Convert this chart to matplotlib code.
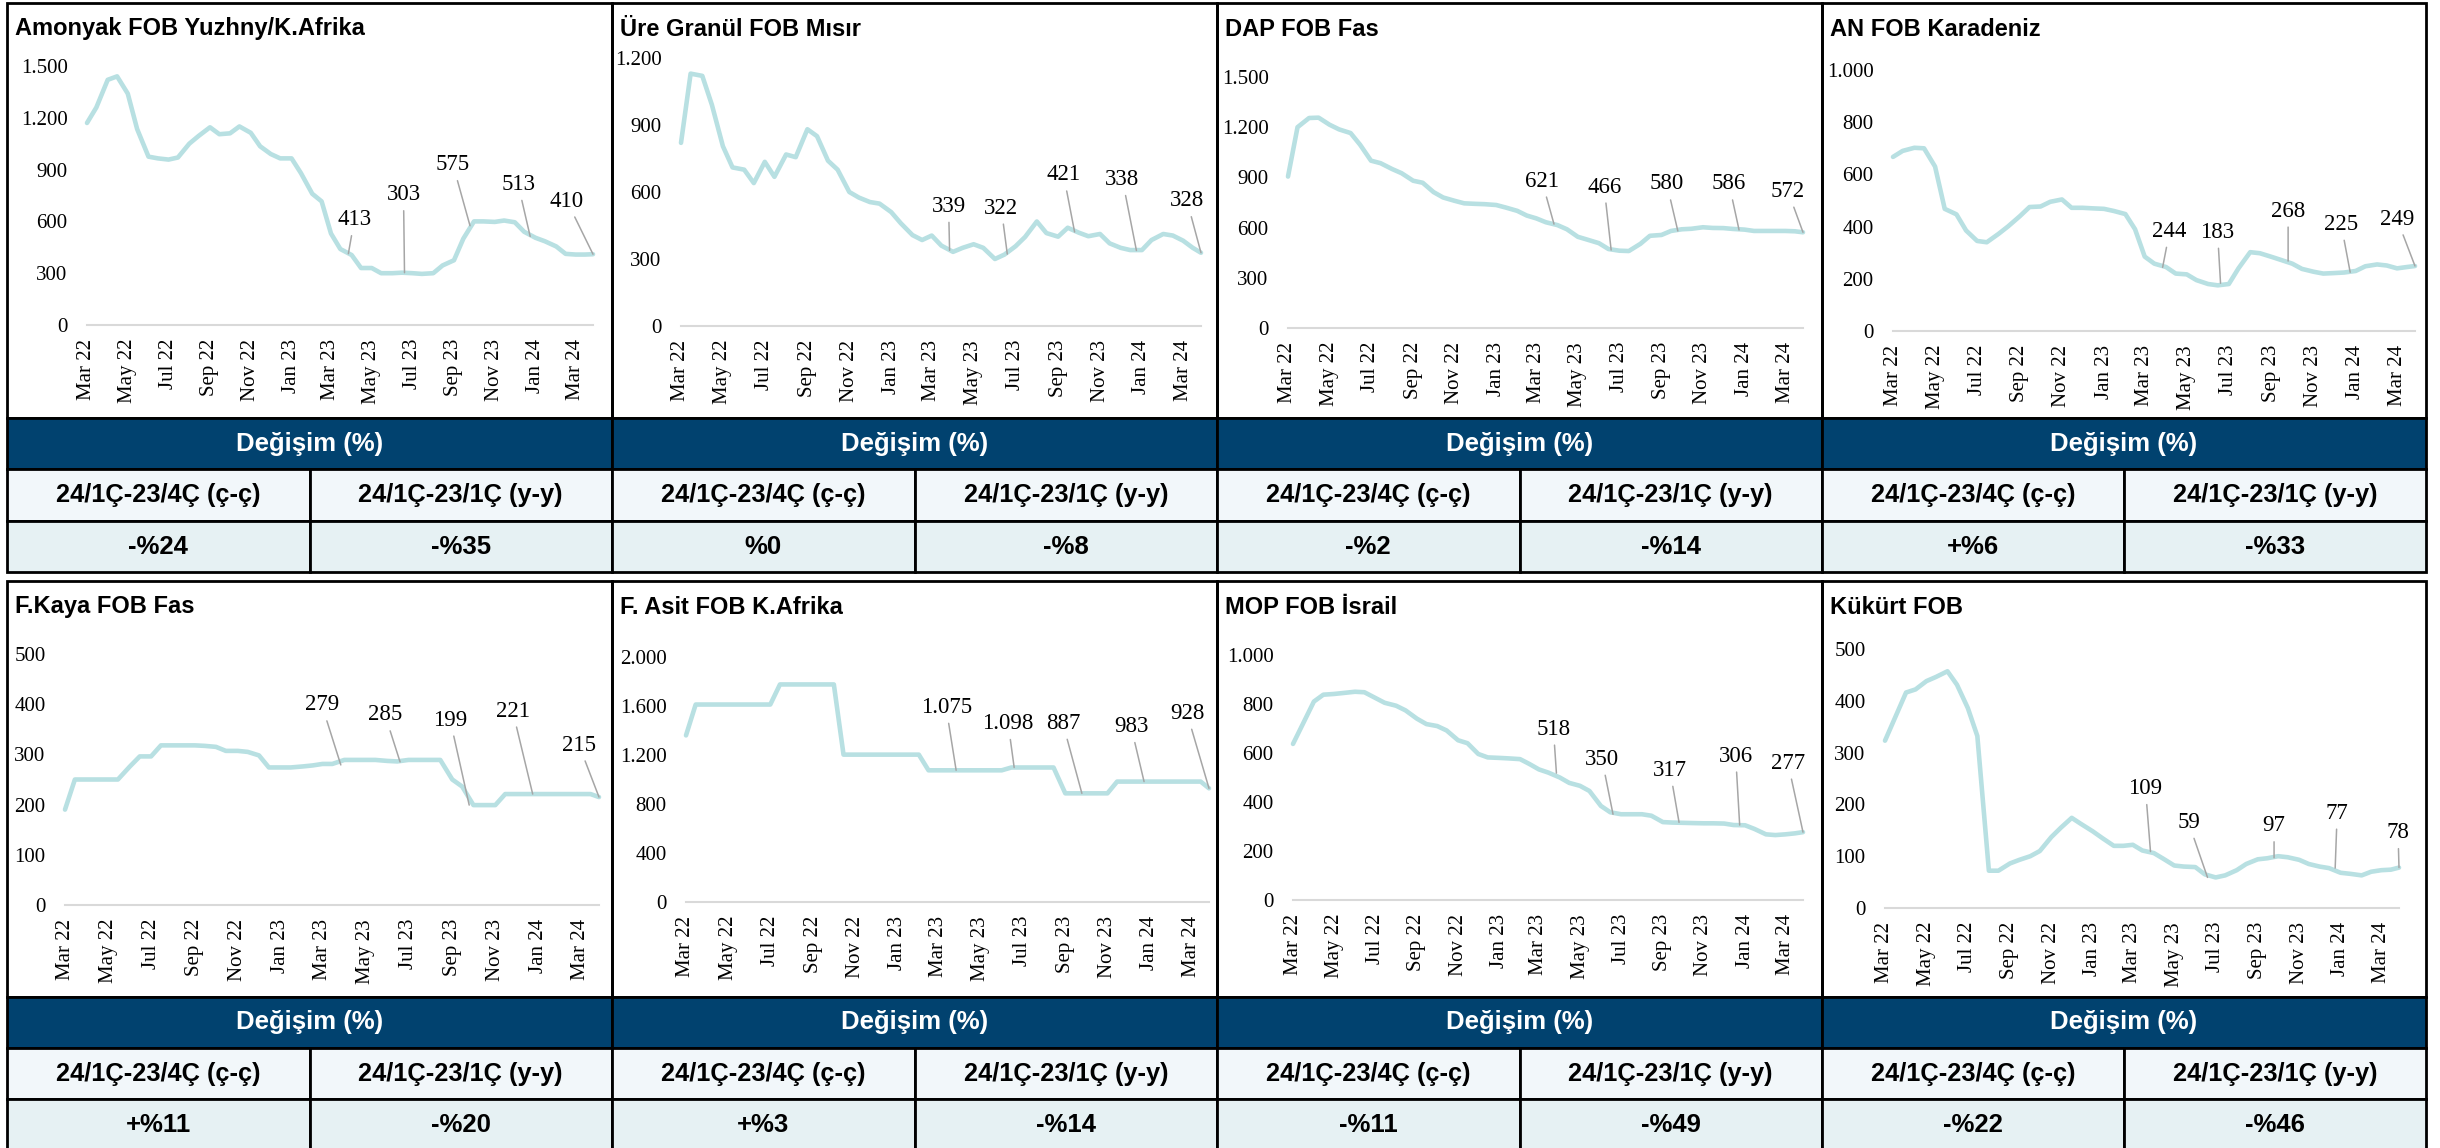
import matplotlib
matplotlib.use("Agg")
import matplotlib.pyplot as plt
import matplotlib.dates as mdates
from matplotlib.patches import Rectangle
from matplotlib.ticker import FuncFormatter, MultipleLocator
import pandas as pd

W, H = 2440, 1148

# yarım aylık tarihler (Mar 22 - Mar 24)
dates = [d.to_pydatetime() for d in pd.date_range("2022-03-01", "2024-03-15", freq="SMS")]
dates.append(pd.Timestamp("2024-03-27").to_pydatetime())
ann_dates = [d.to_pydatetime() for d in pd.to_datetime(
    ["2023-03-27", "2023-06-19", "2023-09-25", "2023-12-24", "2024-03-27"])]

titles = ["Amonyak FOB Yuzhny/K.Afrika", "Üre Granül FOB Mısır", "DAP FOB Fas", "AN FOB Karadeniz",
          "F.Kaya FOB Fas", "F. Asit FOB K.Afrika", "MOP FOB İsrail", "Kükürt FOB"]

amonyak = [1170, 1260, 1420, 1440, 1340, 1135, 975, 965, 958, 970,
           1050, 1095, 1145, 1105, 1110, 1150, 1113, 1035, 990, 965,
           965, 880, 760, 716, 530, 440, 405, 330, 330, 300,
           300, 303, 300, 296, 300, 345, 375, 500, 600, 600,
           597, 605, 595, 540, 505, 485, 455, 412, 408, 408,
           410]
ure = [820, 1130, 1120, 990, 805, 710, 700, 640, 735, 668,
       768, 756, 881, 850, 740, 700, 600, 575, 555, 548,
       510, 460, 407, 385, 405, 360, 332, 350, 366, 350,
       300, 320, 357, 399, 468, 416, 400, 440, 418, 402,
       412, 370, 350, 340, 340, 385, 412, 405, 382, 350,
       328]
dap = [905, 1200, 1255, 1257, 1215, 1187, 1165, 1095, 1000, 985,
       950, 925, 880, 868, 812, 780, 760, 745, 742, 740,
       735, 720, 700, 672, 655, 632, 615, 590, 545, 528,
       507, 472, 462, 460, 503, 551, 556, 580, 590, 593,
       602, 598, 597, 592, 588, 580, 580, 580, 580, 578,
       572]
an = [667, 690, 702, 700, 630, 468, 447, 385, 345, 340,
      372, 401, 440, 475, 477, 495, 504, 472, 472, 470,
      468, 460, 448, 390, 285, 258, 245, 220, 217, 195,
      180, 175, 180, 240, 302, 298, 284, 272, 258, 238,
      227, 220, 222, 224, 230, 248, 255, 251, 240, 245,
      249]
fkaya = [190, 250, 250, 250, 250, 250, 276, 296, 296, 318,
         318, 318, 318, 317, 315, 307, 307, 305, 298, 274,
         274, 274, 276, 278, 281, 281, 289, 289, 289, 289,
         287, 286, 289, 289, 289, 289, 250, 236, 199, 199,
         199, 221, 221, 221, 221, 221, 221, 221, 221, 221,
         215]
fasit = [1360, 1612, 1612, 1612, 1612, 1612, 1612, 1612, 1612, 1776,
         1776, 1776, 1776, 1776, 1776, 1203, 1203, 1203, 1203, 1203,
         1203, 1203, 1203, 1075, 1075, 1075, 1075, 1075, 1075, 1075,
         1075, 1098, 1098, 1098, 1098, 1098, 887, 887, 887, 887,
         887, 983, 983, 983, 983, 983, 983, 983, 983, 983,
         928]
mop = [637, 715, 810, 838, 841, 845, 850, 848, 825, 805,
       793, 774, 740, 718, 710, 692, 652, 640, 596, 582,
       580, 578, 575, 555, 533, 520, 500, 478, 466, 445,
       384, 358, 350, 350, 350, 344, 318, 316, 315, 314,
       313, 313, 312, 306, 305, 290, 268, 265, 268, 272,
       277]
kukurt = [323, 365, 416, 422, 438, 446, 457, 431, 386, 332,
          72, 72, 86, 93, 100, 110, 137, 155, 174, 162,
          148, 135, 120, 120, 122, 111, 106, 95, 82, 80,
          79, 65, 59, 63, 73, 85, 94, 96, 100, 98,
          93, 85, 80, 77, 68, 66, 63, 70, 73, 74,
          78]
series = [amonyak, ure, dap, an, fkaya, fasit, mop, kukurt]

# çeyrek sonu etiketleri
point_labels = [[413, 303, 575, 513, 410], [339, 322, 421, 338, 328], [621, 466, 580, 586, 572],
                [244, 183, 268, 225, 249], [279, 285, 199, 221, 215], [1075, 1098, 887, 983, 928],
                [518, 350, 317, 306, 277], [109, 59, 97, 77, 78]]

qq_change = ["-%24", "%0", "-%2", "+%6", "+%11", "+%3", "-%11", "-%22"]
yy_change = ["-%35", "-%8", "-%14", "-%33", "-%20", "-%14", "-%49", "-%46"]
col_heads = ["24/1Ç-23/4Ç (ç-ç)", "24/1Ç-23/1Ç (y-y)"]

y_max = [1500, 1200, 1500, 1000, 500, 2000, 1000, 500]
y_step = [300, 300, 300, 200, 100, 400, 200, 100]

# yerleşim (piksel)
col_x = [7, 612, 1217, 1822, 2426]
rows = [(3, 418, 469, 521, 572), (581, 997, 1048, 1099, 1152)]
title_y = [29, 607]
ax_box = [(87, 593, 66, 325), (681, 1201, 58, 326), (1288, 1803, 77, 328), (1893, 2415, 70, 331),
          (65, 599, 654, 905), (686, 1209, 657, 902), (1293, 1803, 655, 900), (1885, 2399, 649, 908)]
offsets = [[(6, 34), (-1, 78), (-17, 61), (-12, 52), (-26, 53)],
           [(-1, 44), (-6, 46), (-11, 57), (-14, 71), (-14, 52)],
           [(-12, 43), (-7, 63), (-11, 47), (-10, 46), (-15, 41)],
           [(7, 36), (-3, 51), (0, 50), (-9, 48), (-18, 47)],
           [(-19, 60), (-15, 47), (-19, 85), (-20, 83), (-20, 52)],
           [(-10, 63), (-6, 44), (-19, 70), (-13, 55), (-22, 75)],
           [(-3, 44), (-11, 55), (-9, 52), (-4, 69), (-15, 69)],
           [(-5, 63), (-19, 55), (0, 32), (2, 55), (-1, 35)]]

LINE = "#b8e0e2"
NAVY = "#01426f"
SANS = "Liberation Sans"
SERIF = "Liberation Serif"


def fmt_num(v):
    return f"{int(v):,}".replace(",", ".")


fig = plt.figure(figsize=(W / 100, H / 100), dpi=100)
ov = fig.add_axes([0, 0, 1, 1], zorder=0)
ov.set_xlim(0, W)
ov.set_ylim(H, 0)
ov.axis("off")

for i in range(8):
    r, c = divmod(i, 4)
    x0, x1 = col_x[c], col_x[c + 1]
    xm = (x0 + x1) / 2
    top, hdr, sub, val, bot = rows[r]

    # çerçeve ve tablo
    ov.add_patch(Rectangle((x0, top), x1 - x0, hdr - top, fill=False, ec="black", lw=2))
    ov.add_patch(Rectangle((x0, hdr), x1 - x0, sub - hdr, fc=NAVY, ec="black", lw=2))
    for k, (a, b) in enumerate([(x0, xm), (xm, x1)]):
        ov.add_patch(Rectangle((a, sub), b - a, val - sub, fc="#f2f7fa", ec="black", lw=2))
        ov.add_patch(Rectangle((a, val), b - a, bot - val, fc="#e6f1f3", ec="black", lw=2))
        ov.text((a + b) / 2, (sub + val) / 2, col_heads[k], ha="center", va="center",
                fontsize=18.3, fontweight="bold", family=SANS)
        ov.text((a + b) / 2, (val + min(bot, H)) / 2 + 1, [qq_change, yy_change][k][i],
                ha="center", va="center", fontsize=18.5, fontweight="bold", family=SANS)
    ov.text(xm, (hdr + sub) / 2, "Değişim (%)", ha="center", va="center", color="white",
            fontsize=18.5, fontweight="bold", family=SANS)
    ov.text(x0 + 8, title_y[r], titles[i], ha="left", va="center", fontsize=17,
            fontweight="bold", family=SANS)

    # grafik
    bx0, bx1, by1, by0 = ax_box[i]
    ax = fig.add_axes([bx0 / W, 1 - by0 / H, (bx1 - bx0) / W, (by0 - by1) / H], zorder=1)
    ax.patch.set_alpha(0)
    ax.plot(dates, series[i], color=LINE, lw=3.3, solid_capstyle="round",
            solid_joinstyle="round", clip_on=False)
    ax.set_xlim(dates[0], dates[-1])
    ax.set_ylim(0, y_max[i])
    ax.yaxis.set_major_locator(MultipleLocator(y_step[i]))
    ax.yaxis.set_major_formatter(FuncFormatter(lambda v, p: fmt_num(v)))
    ax.xaxis.set_major_locator(mdates.MonthLocator(bymonth=[1, 3, 5, 7, 9, 11]))
    ax.xaxis.set_major_formatter(mdates.DateFormatter("%b %y"))
    for s in ["top", "right", "left"]:
        ax.spines[s].set_visible(False)
    ax.spines["bottom"].set_color("#d9d9d9")
    ax.spines["bottom"].set_linewidth(1.5)
    ax.tick_params(axis="both", length=0, labelsize=15)
    ax.tick_params(axis="y", pad=14)
    ax.tick_params(axis="x", pad=10, labelrotation=90)
    for lab in ax.get_xticklabels() + ax.get_yticklabels():
        lab.set_family(SERIF)

    for d, v, (dx, dy) in zip(ann_dates, point_labels[i], offsets[i]):
        ax.annotate(fmt_num(v), xy=(d, v), xytext=(dx, dy), textcoords="offset pixels",
                    ha="center", va="center", fontsize=16.5, family=SERIF,
                    annotation_clip=False,
                    arrowprops=dict(arrowstyle="-", color="#a6a6a6", lw=1.1,
                                    shrinkA=2, shrinkB=0))

fig.savefig("out.png", dpi=100)
